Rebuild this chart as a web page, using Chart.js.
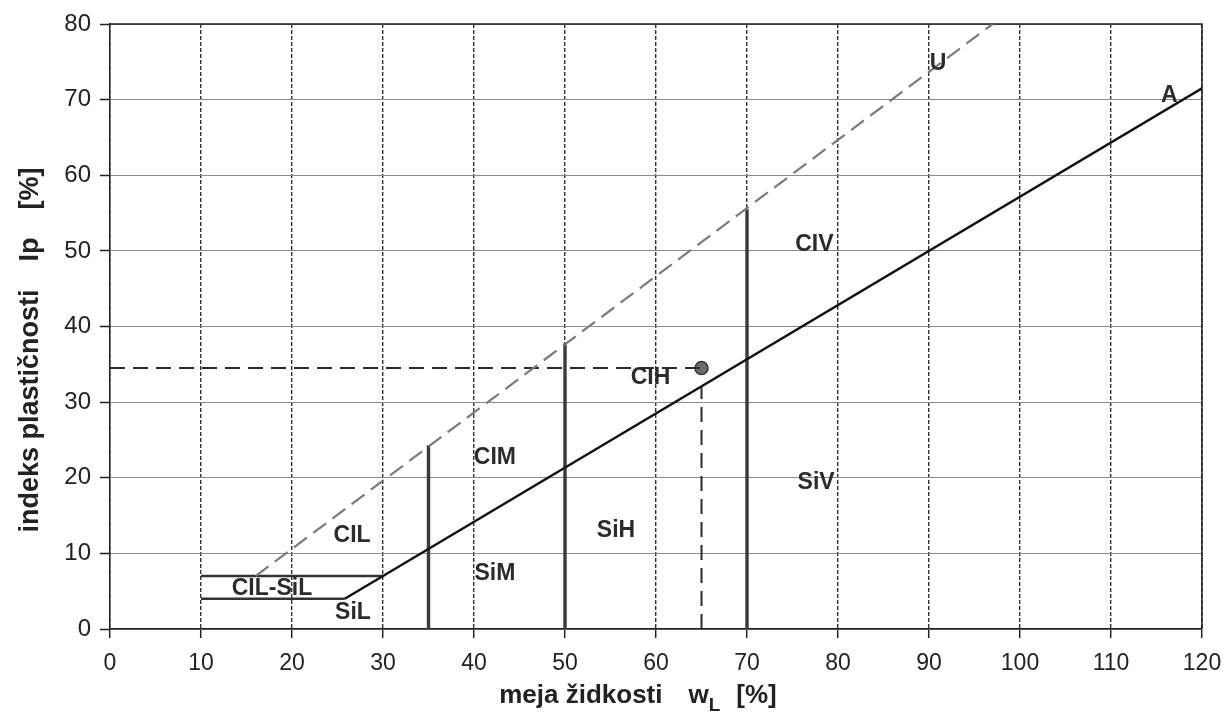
<!DOCTYPE html>
<html>
<head>
<meta charset="utf-8">
<title>Diagram plastičnosti</title>
<script src="https://cdn.jsdelivr.net/npm/chart.js@4.4.0/dist/chart.umd.min.js"></script>
<style>
  html, body { margin: 0; padding: 0; background: #fff; }
</style>
</head>
<body>
<canvas id="plasticity" width="1223" height="722"></canvas>
<script>
// meja židkosti wL [%] (x) in indeks plastičnosti Ip [%] (y)
var xMin = 0, xMax = 120, xStep = 10;
var yMin = 0, yMax = 80, yStep = 10;

// linija A in linija U
var aLineX = [25.8, 120];
var aLineY = [4, 71.5];
var uLineX = [16, 97];
var uLineY = [7, 80];

// pas CIL-SiL
var bandUpperX = [10, 30];
var bandUpperY = [7, 7];
var bandLowerX = [10, 25.8];
var bandLowerY = [4, 4];

// navpične meje območij L / M / H / V
var zoneX = [35, 50, 70];
var zoneTopY = [24.3, 37.8, 55.5];

// vzorec
var sampleWL = 65;
var sampleIp = 34.5;
var sampleDropTop = 32;

// oznake območij
var zoneNames  = ["U", "A", "CIV", "CIH", "CIM", "SiV", "SiH", "SiM", "CIL", "CIL-SiL", "SiL"];
var zoneLabelX = [91, 116.4, 77.4, 59.4, 42.3, 77.6, 55.6, 42.3, 26.6, 17.8, 26.7];
var zoneLabelY = [74.7, 70.5, 50.8, 33.2, 22.7, 19.4, 13.0, 7.3, 12.3, 5.3, 2.2];

var FONT = "'Liberation Sans', Arial, sans-serif";
var INK = "#222";

function toPoints(xs, ys) {
    var pts = [];
    for (var i = 0; i < xs.length; i++) {
        pts.push({ x: xs[i], y: ys[i] });
    }
    return pts;
}

function solid(data, width, color) {
    return {
        data: data,
        showLine: true,
        borderColor: color,
        borderWidth: width,
        pointRadius: 0,
        fill: false
    };
}

var datasets = [];

/* linija U - siva črtkana */
var uSet = solid(toPoints(uLineX, uLineY), 2.2, "#7a7a7a");
uSet.borderDash = [16, 8];
datasets.push(uSet);

/* linija A */
datasets.push(solid(toPoints(aLineX, aLineY), 2.4, "#111"));

/* pas CIL-SiL */
datasets.push(solid(toPoints(bandUpperX, bandUpperY), 2.4, "#333"));
datasets.push(solid(toPoints(bandLowerX, bandLowerY), 2.4, "#333"));

/* navpične meje */
for (var i = 0; i < zoneX.length; i++) {
    datasets.push(solid(toPoints([zoneX[i], zoneX[i]], [0, zoneTopY[i]]), 3.4, "#3a3a3a"));
}

/* odčitek vzorca - črtkano */
var hSet = solid(toPoints([0, sampleWL], [sampleIp, sampleIp]), 2, "#2a2a2a");
hSet.borderDash = [15, 8];
datasets.push(hSet);
var vSet = solid(toPoints([sampleWL, sampleWL], [0, sampleDropTop]), 2, "#2a2a2a");
vSet.borderDash = [15, 8];
datasets.push(vSet);

/* točka vzorca */
datasets.push({
    data: [{ x: sampleWL, y: sampleIp }],
    showLine: false,
    pointRadius: 6.5,
    pointBackgroundColor: "#6b6b6b",
    pointBorderColor: "#333",
    pointBorderWidth: 1.5
});

/* okvir zgoraj in desno */
var framePlugin = {
    id: "frame",
    beforeDatasetsDraw: function (chart) {
        var a = chart.chartArea, ctx = chart.ctx;
        ctx.save();
        ctx.strokeStyle = INK;
        ctx.lineWidth = 1.5;
        ctx.beginPath();
        ctx.moveTo(a.left, a.top);
        ctx.lineTo(a.right, a.top);
        ctx.lineTo(a.right, a.bottom);
        ctx.stroke();
        ctx.restore();
    }
};

/* oznake območij */
var labelPlugin = {
    id: "zoneLabels",
    afterDatasetsDraw: function (chart) {
        var ctx = chart.ctx, sx = chart.scales.x, sy = chart.scales.y;
        ctx.save();
        ctx.font = "bold 23px " + FONT;
        ctx.fillStyle = "#2b2b2b";
        ctx.textAlign = "center";
        ctx.textBaseline = "middle";
        for (var i = 0; i < zoneNames.length; i++) {
            ctx.fillText(zoneNames[i], sx.getPixelForValue(zoneLabelX[i]), sy.getPixelForValue(zoneLabelY[i]));
        }
        ctx.restore();
    }
};

/* izriše niz delov besedila enega za drugim, od x naprej */
function drawParts(ctx, parts, x, base) {
    parts.forEach(function (p) {
        ctx.font = p.f;
        ctx.fillText(p.t, x, base + p.dy);
        x += ctx.measureText(p.t).width + p.gap;
    });
}

function partsWidth(ctx, parts) {
    var total = 0;
    parts.forEach(function (p) { ctx.font = p.f; total += ctx.measureText(p.t).width + p.gap; });
    return total;
}

/* naslova osi (w z indeksom L) */
var titlePlugin = {
    id: "axisTitles",
    afterDraw: function (chart) {
        var ctx = chart.ctx;
        ctx.save();
        ctx.fillStyle = INK;
        ctx.textBaseline = "alphabetic";
        ctx.textAlign = "left";

        var big = "bold 26px " + FONT;
        var small = "bold 19px " + FONT;
        var xParts = [
            { t: "meja židkosti", f: big, dy: 0, gap: 26 },
            { t: "w", f: big, dy: 0, gap: 0 },
            { t: "L", f: small, dy: 8, gap: 16 },
            { t: "[%]", f: big, dy: 0, gap: 0 }
        ];
        drawParts(ctx, xParts, 638 - partsWidth(ctx, xParts) / 2, 703);

        var yBig = "bold 27px " + FONT;
        var yParts = [
            { t: "indeks plastičnosti", f: yBig, dy: 0, gap: 28 },
            { t: "Ip", f: yBig, dy: 0, gap: 28 },
            { t: "[%]", f: yBig, dy: 0, gap: 0 }
        ];
        ctx.translate(38, 350);
        ctx.rotate(-Math.PI / 2);
        drawParts(ctx, yParts, -partsWidth(ctx, yParts) / 2, 0);
        ctx.restore();
    }
};

var ctx0 = document.getElementById("plasticity");
var chart = new Chart(ctx0, {
    type: "scatter",
    data: { datasets: datasets },
    options: {
        responsive: false,
        animation: false,
        layout: { padding: { top: 24, right: 21, bottom: 0, left: 0 } },
        plugins: { legend: { display: false }, tooltip: { enabled: false } },
        scales: {
            x: {
                type: "linear",
                min: xMin,
                max: xMax,
                afterFit: function (s) { s.height = 93; s.paddingLeft = 0; s.paddingRight = 0; },
                ticks: { stepSize: xStep, font: { size: 23, family: FONT }, color: INK, padding: 12, maxRotation: 0 },
                grid: { color: "#333", lineWidth: 1.4, tickLength: 9, tickColor: INK, tickWidth: 1.5 },
                border: { color: INK, width: 1.5, dash: [4, 2] }
            },
            y: {
                type: "linear",
                min: yMin,
                max: yMax,
                afterFit: function (s) { s.width = 110; s.paddingTop = 0; s.paddingBottom = 0; },
                ticks: { stepSize: yStep, font: { size: 24, family: FONT }, color: INK, padding: 9 },
                grid: { color: "#8a8a8a", lineWidth: 1, tickLength: 10, tickColor: INK, tickWidth: 1.5 },
                border: { color: INK, width: 1.5 }
            }
        }
    },
    plugins: [framePlugin, labelPlugin, titlePlugin]
});
</script>
</body>
</html>
